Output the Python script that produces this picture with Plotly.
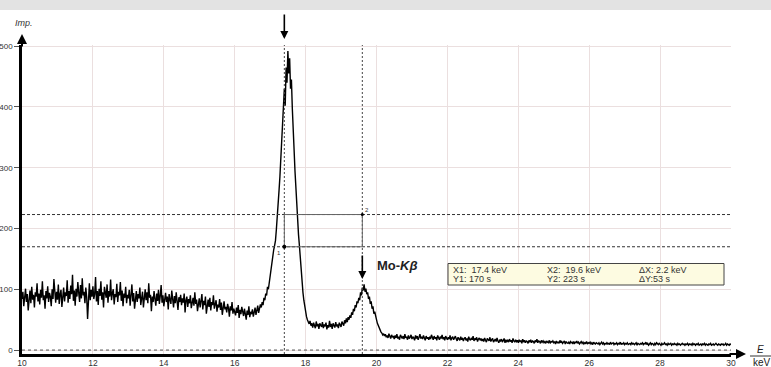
import plotly.graph_objects as go

# Counts (Imp.), 0.025 keV channels from 10 keV, 10 values per 0.25 keV
counts = [
    84, 96, 72, 88, 101, 79, 92, 65, 86, 98,
    77, 104, 83, 91, 70, 95, 88, 110, 80, 93,
    75, 99, 86, 113, 82, 90, 68, 97, 85, 105,
    79, 94, 88, 72, 100, 84, 117, 91, 78, 96,
    83, 108, 76, 92, 99, 71, 87, 103, 80, 95,
    89, 115, 78, 97, 84, 106, 92, 124, 81, 98,
    73, 101, 88, 112, 94, 79, 107, 85, 118, 90,
    96, 77, 103, 87, 51, 93, 110, 82, 99, 88,
    105, 84, 92, 120, 80, 97, 74, 101, 89, 113,
    83, 95, 70, 104, 91, 86, 108, 78, 97, 88,
    116, 82, 94, 100, 75, 92, 87, 109, 79, 96,
    90, 112, 81, 98, 72, 93, 86, 104, 77, 91,
    85, 99, 73, 90, 108, 80, 94, 68, 88, 97,
    79, 92, 85, 103, 74, 89, 96, 70, 87, 100,
    82, 95, 77, 110, 86, 91, 64, 88, 79, 97,
    84, 73, 93, 81, 99, 76, 89, 107, 78, 90,
    72, 86, 94, 79, 88, 67, 92, 83, 76, 98,
    81, 70, 89, 77, 95, 84, 66, 87, 79, 91,
    74, 85, 78, 93, 62, 82, 88, 71, 84, 77,
    90, 69, 80, 86, 73, 95, 76, 83, 64, 79,
    85, 70, 78, 92, 67, 81, 74, 88, 60, 76,
    83, 71, 86, 65, 79, 74, 90, 68, 77, 82,
    63, 75, 70, 84, 66, 78, 58, 73, 80, 67,
    71, 62, 76, 69, 55, 72, 65, 79, 60, 68,
    64, 57, 70, 61, 74, 53, 66, 59, 71, 62,
    56, 68, 60, 50, 65, 58, 72, 54, 63, 59,
    67, 55, 62, 70, 58, 64, 73, 61, 68, 75,
    70, 79, 74, 86, 82, 93, 90, 104, 100, 112,
    122, 135, 142, 156, 165, 172, 180, 198, 215, 236,
    262, 285, 310, 336, 372, 395, 430, 402, 465, 440,
    492, 455, 480, 430, 445, 398, 372, 330, 295, 262,
    232, 210, 190, 172, 150, 132, 112, 95, 82, 70,
    62, 55, 50, 46, 43, 48, 40, 44, 37, 45,
    41, 36, 47, 39, 43, 35, 44, 40, 38, 46,
    36, 42, 39, 45, 34, 41, 37, 48, 38, 43,
    35, 44, 40, 37, 46, 39, 42, 36, 45, 41,
    38, 47, 42, 40, 49, 44, 52, 46, 54, 50,
    57, 53, 62, 58, 68, 64, 74, 70, 80, 77,
    86, 82, 95, 90, 103, 98, 108, 96, 101, 92,
    95, 84, 88, 76, 80, 68, 72, 60, 63, 54,
    50, 44, 40, 36, 33, 30, 28, 25, 27, 23,
    26, 21, 24, 20, 27, 22, 19, 25, 21, 23,
    18, 24, 20, 26, 19, 22, 17, 25, 21, 19,
    23, 18, 26, 20, 22, 17, 24, 19, 21, 25,
    18, 22, 20, 16, 24, 19, 23, 17, 21, 26,
    19, 22, 18, 24, 20, 16, 23, 19, 21, 17,
    22, 18, 25, 20, 17, 23, 19, 21, 16, 24,
    20, 17, 22, 19, 25, 18, 21, 16, 23, 19,
    17, 21, 18, 24, 16, 20, 22, 17, 19, 23,
    18, 15, 21, 19, 16, 22, 17, 20, 15, 19,
    21, 16, 19, 14, 22, 18, 16, 20, 17, 23,
    15, 19, 17, 21, 14, 18, 20, 16, 19, 15,
    18, 14, 20, 16, 13, 19, 17, 15, 21, 14,
    17, 19, 13, 16, 18, 14, 20, 15, 12, 17,
    15, 18, 13, 16, 19, 12, 17, 14, 16, 13,
    18, 14, 16, 12, 19, 15, 13, 17, 14, 16,
    12, 17, 14, 15, 11, 18, 13, 16, 12, 15,
    14, 11, 16, 13, 17, 12, 15, 14, 11, 16,
    13, 18, 12, 15, 14, 11, 16, 13, 15, 12,
    14, 11, 15, 13, 12, 16, 11, 14, 13, 15,
    12, 14, 10, 15, 12, 13, 11, 16, 12, 14,
    11, 13, 15, 10, 14, 12, 11, 13, 10, 14,
    12, 11, 14, 10, 13, 12, 15, 11, 13, 10,
    12, 14, 11, 13, 10, 12, 11, 14, 10, 12,
    11, 13, 10, 12, 9, 13, 11, 10, 12, 11,
    10, 12, 9, 11, 13, 10, 12, 9, 11, 10,
    12, 10, 11, 9, 13, 10, 11, 12, 9, 11,
    10, 12, 9, 11, 10, 13, 9, 11, 10, 12,
    9, 11, 10, 12, 9, 10, 11, 9, 12, 10,
    11, 9, 10, 12, 8, 11, 10, 9, 11, 10,
    12, 9, 11, 10, 13, 9, 11, 8, 10, 12,
    9, 11, 10, 8, 11, 9, 12, 10, 9, 11,
    10, 8, 11, 9, 10, 12, 9, 10, 8, 11,
    9, 10, 11, 8, 10, 9, 11, 9, 10, 8,
    11, 9, 10, 8, 10, 11, 9, 10, 8, 10,
    9, 11, 8, 10, 9, 10, 8, 11, 9, 10,
    8, 10, 9, 11, 8, 9, 10, 8, 10, 9,
    11, 8, 10, 9, 8, 10, 9, 11, 8, 9,
    10, 8, 9, 11, 9, 8, 10, 9, 8, 10,
    9, 10, 8, 9, 11, 8, 10, 9, 8, 10,
    9,
]
# channel energies (keV)
energy = [round(10 + 0.025 * i, 3) for i in range(len(counts))]

x_ticks = [10, 12, 14, 16, 18, 20, 22, 24, 26, 28, 30]
y_ticks = [0, 100, 200, 300, 400, 500]

# cursor readings
X1, Y1 = 17.4, 170
X2, Y2 = 19.6, 223

FONT = "Liberation Sans, Arial, sans-serif"
W, H = 771, 367
ML, MR, MT, MB = 22, 40, 45, 13
PW, PH = W - ML - MR, H - MT - MB


def px(xp):
    return (xp - ML) / PW


def py(yp):
    return (H - MB - yp) / PH


fig = go.Figure()
fig.add_trace(go.Scatter(x=energy, y=counts, mode="lines",
                         line=dict(color="black", width=1.4),
                         hoverinfo="skip", showlegend=False))

shapes = []
# top grey band
shapes.append(dict(type="rect", xref="paper", yref="paper",
                   x0=px(-2), x1=px(W + 2), y0=py(10), y1=py(-2),
                   fillcolor="#e3e3e3", line=dict(width=0), layer="below"))
# zero dashed line
shapes.append(dict(type="line", xref="x", yref="y", x0=10, x1=30, y0=0, y1=0,
                   line=dict(color="#555555", width=1, dash="3px,3px")))
# cursor horizontal dashed lines
for yv in (Y1, Y2):
    shapes.append(dict(type="line", xref="x", yref="y", x0=10, x1=30, y0=yv, y1=yv,
                       line=dict(color="#333333", width=1, dash="3px,2px")))
# cursor vertical dotted lines
for xv in (X1, X2):
    shapes.append(dict(type="line", xref="x", yref="paper", x0=xv, x1=xv, y0=0, y1=1,
                       line=dict(color="#444444", width=1, dash="2px,2px")))
# cursor rectangle
shapes.append(dict(type="rect", xref="x", yref="y", x0=X1, x1=X2, y0=Y1, y1=Y2,
                   line=dict(color="#666666", width=1)))
# cursor points
shapes.append(dict(type="circle", xref="x", yref="y", xsizemode="pixel", ysizemode="pixel",
                   xanchor=X1, yanchor=Y1, x0=-2, x1=2, y0=-2, y1=2,
                   fillcolor="black", line=dict(width=0)))
shapes.append(dict(type="circle", xref="x", yref="y", xsizemode="pixel", ysizemode="pixel",
                   xanchor=X2, yanchor=Y2, x0=-1.5, x1=1.5, y0=-1.5, y1=1.5,
                   fillcolor="black", line=dict(width=0)))
# info box
shapes.append(dict(type="rect", xref="paper", yref="paper",
                   x0=px(448), x1=px(724), y0=py(285), y1=py(263.5),
                   fillcolor="#fdfbe1", line=dict(color="#444444", width=1)))
# E / keV fraction bar
shapes.append(dict(type="line", xref="paper", yref="paper",
                   x0=px(750), x1=px(771), y0=py(356), y1=py(356),
                   line=dict(color="#333333", width=1)))

ann = []
# axis arrows
ann.append(dict(xref="paper", yref="paper", x=0, y=py(34), ax=0, ay=14,
                showarrow=True, arrowhead=2, arrowsize=1, arrowwidth=2,
                arrowcolor="black", text=""))
ann.append(dict(xref="paper", yref="paper", x=px(746), y=py(354), ax=-18, ay=0,
                showarrow=True, arrowhead=2, arrowsize=1, arrowwidth=2,
                arrowcolor="black", text=""))
# peak arrows
ann.append(dict(xref="x", yref="paper", x=X1, y=py(39), ax=0, ay=-26,
                showarrow=True, arrowhead=2, arrowsize=1, arrowwidth=1.6,
                arrowcolor="black", text=""))
ann.append(dict(xref="x", yref="paper", x=X2, y=py(279), ax=0, ay=-25,
                showarrow=True, arrowhead=2, arrowsize=1, arrowwidth=1.6,
                arrowcolor="black", text=""))
# labels
ann.append(dict(xref="paper", yref="paper", x=px(13), y=py(23), xanchor="left",
                yanchor="middle", showarrow=False,
                text="<i>Imp.</i>", font=dict(family=FONT, size=9, color="#333333")))
ann.append(dict(xref="paper", yref="paper", x=px(760), y=py(349), xanchor="center",
                yanchor="middle", showarrow=False,
                text="<i>E</i>", font=dict(family=FONT, size=10, color="#222222")))
ann.append(dict(xref="paper", yref="paper", x=px(751), y=py(362), xanchor="left",
                yanchor="middle", showarrow=False,
                text="keV", font=dict(family=FONT, size=10, color="#222222")))
ann.append(dict(xref="paper", yref="paper", x=px(375), y=py(265), xanchor="left",
                yanchor="middle", showarrow=False,
                text="<b>Mo-<i>Kβ</i></b>", font=dict(family=FONT, size=13, color="#222222")))
ann.append(dict(xref="x", yref="y", x=X1, y=Y1, xanchor="right", yanchor="top",
                xshift=-1, yshift=-1, showarrow=False,
                text="1", font=dict(family=FONT, size=6, color="#333333")))
ann.append(dict(xref="x", yref="y", x=X2, y=Y2, xanchor="left", yanchor="bottom",
                xshift=1, yshift=0, showarrow=False,
                text="2", font=dict(family=FONT, size=6, color="#333333")))
# info box text
info = [
    (451, 269.5, f"X1:  {X1} keV"), (545, 269.5, f"X2:  {X2} keV"),
    (637, 269.5, f"ΔX: {round(X2 - X1, 1)} keV"),
    (451, 279, f"Y1: {Y1} s"), (545, 279, f"Y2: {Y2} s"),
    (637, 279, f"ΔY:{Y2 - Y1} s"),
]
for xp_, yp_, t in info:
    ann.append(dict(xref="paper", yref="paper", x=px(xp_), y=py(yp_), xanchor="left",
                    yanchor="middle", showarrow=False, text=t,
                    font=dict(family=FONT, size=9, color="#333333")))

fig.update_layout(
    width=W, height=H,
    margin=dict(l=ML, r=MR, t=MT, b=MB, autoexpand=False),
    paper_bgcolor="white", plot_bgcolor="white",
    showlegend=False, hovermode=False, dragmode=False,
    shapes=shapes, annotations=ann,
    xaxis=dict(range=[10, 30], tickvals=x_ticks, ticktext=[str(v) for v in x_ticks],
               showgrid=True, gridcolor="#ebdfdf", gridwidth=1,
               zeroline=False, showline=True, linecolor="black", linewidth=2.5,
               ticks="", ticklabelstandoff=-1,
               tickfont=dict(family=FONT, size=8.5, color="#333333"),
               automargin=False),
    yaxis=dict(range=[-6.5, 502], tickvals=y_ticks, ticktext=[str(v) for v in y_ticks],
               showgrid=True, gridcolor="#ebdfdf", gridwidth=1,
               zeroline=False, showline=True, linecolor="black", linewidth=2.5,
               ticks="outside", ticklen=5, tickcolor="#555555",
               tickfont=dict(family=FONT, size=8, color="#333333"),
               automargin=False),
)
fig.write_html("out.html", config={"displayModeBar": False},
               post_script="document.body.style.margin='0px';document.body.style.overflow='hidden';")
